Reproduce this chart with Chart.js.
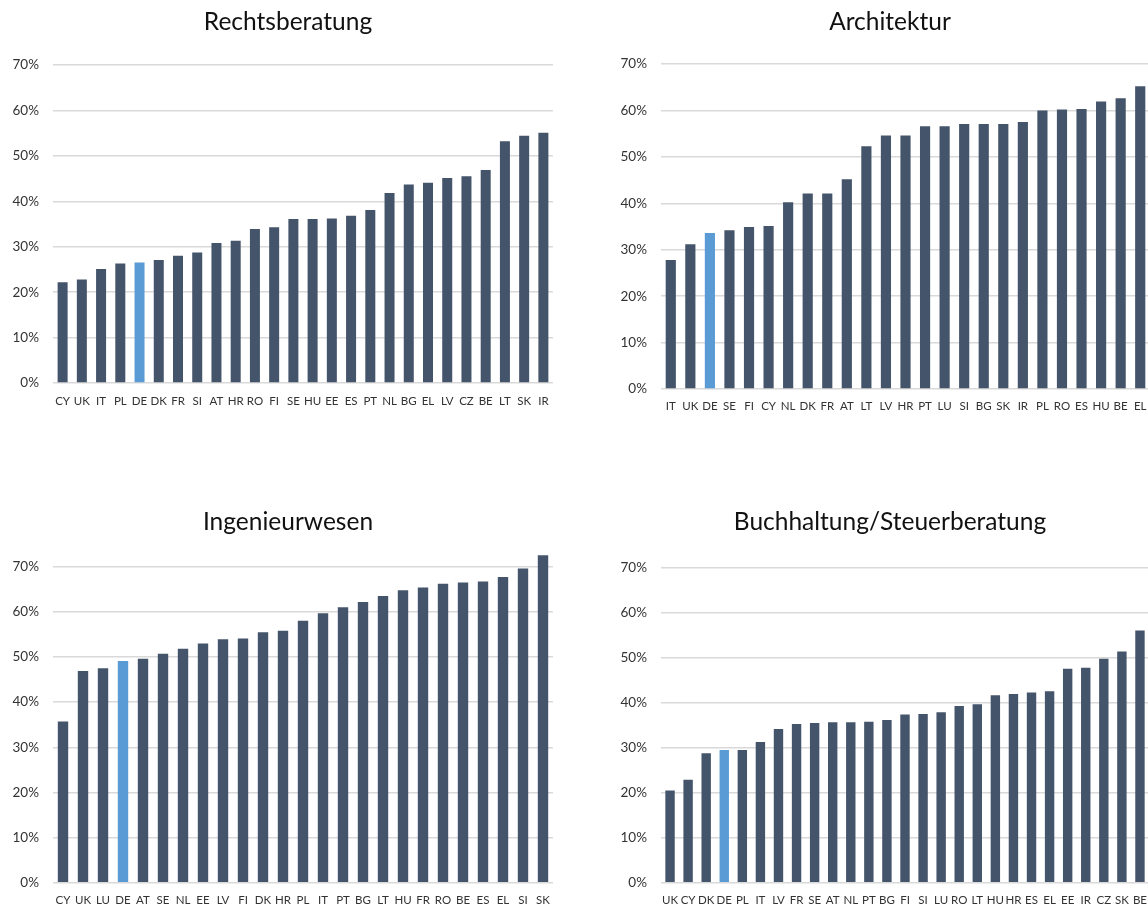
<!DOCTYPE html>
<html><head><meta charset="utf-8">
<script src="https://cdn.jsdelivr.net/npm/chart.js@4/dist/chart.umd.min.js"></script>
<style>
html,body{margin:0;padding:0;background:#fff;width:1148px;height:905px;overflow:hidden;position:relative;}
canvas{position:absolute;display:block;}
</style></head><body>
<canvas id="c1" style="left:0px;top:0px"></canvas>
<canvas id="c2" style="left:602px;top:0px"></canvas>
<canvas id="c3" style="left:0px;top:500px"></canvas>
<canvas id="c4" style="left:602px;top:500px"></canvas>
<script>
// ---- Data (percent) ----
const rechtsLabels = ['CY','UK','IT','PL','DE','DK','FR','SI','AT','HR','RO','FI','SE','HU','EE','ES','PT','NL','BG','EL','LV','CZ','BE','LT','SK','IR'];
const rechtsValues = [22.2,22.8,25.1,26.3,26.5,27.1,28.0,28.7,30.8,31.3,33.9,34.3,36.1,36.1,36.2,36.8,38.1,41.8,43.7,44.1,45.1,45.5,46.9,53.2,54.4,55.1];

const archLabels = ['IT','UK','DE','SE','FI','CY','NL','DK','FR','AT','LT','LV','HR','PT','LU','SI','BG','SK','IR','PL','RO','ES','HU','BE','EL'];
const archValues = [27.8,31.2,33.6,34.2,34.9,35.1,40.2,42.1,42.1,45.2,52.3,54.6,54.6,56.6,56.6,57.1,57.1,57.1,57.5,60.0,60.2,60.3,61.9,62.6,65.2];

const ingLabels = ['CY','UK','LU','DE','AT','SE','NL','EE','LV','FI','DK','HR','PL','IT','PT','BG','LT','HU','FR','RO','BE','ES','EL','SI','SK'];
const ingValues = [35.7,46.9,47.5,49.1,49.6,50.7,51.8,53.0,53.9,54.1,55.5,55.8,58.0,59.7,61.0,62.2,63.5,64.8,65.4,66.2,66.5,66.7,67.7,69.6,72.5];

const buchLabels = ['UK','CY','DK','DE','PL','IT','LV','FR','SE','AT','NL','PT','BG','FI','SI','LU','RO','LT','HU','HR','ES','EL','EE','IR','CZ','SK','BE'];
const buchValues = [20.5,22.9,28.8,29.5,29.5,31.3,34.2,35.3,35.5,35.7,35.7,35.8,36.2,37.4,37.5,37.9,39.3,39.7,41.7,42.0,42.3,42.6,47.6,47.8,49.8,51.4,56.1];

const yTickStep = 10;
const yTickTop = 70;
const highlightCountry = 'DE';

const BAR = '#44546A';
const HIGHLIGHT = '#5B9BD5';
const FONT = 'Lato';

// Title centered on the whole canvas (like the original chart boxes)
const centerTitle = {
  id: 'centerTitle',
  afterDraw(chart, args, opts) {
    const ctx = chart.ctx;
    ctx.save();
    ctx.font = 'normal ' + opts.size + 'px ' + FONT;
    ctx.fillStyle = opts.color;
    ctx.textAlign = 'center';
    ctx.textBaseline = 'middle';
    ctx.fillText(opts.text, chart.width / 2, opts.y);
    ctx.restore();
  }
};

function makeChart(id, title, labels, values, o) {
  const cv = document.getElementById(id);
  cv.width = o.W; cv.height = o.H;
  cv.style.width = o.W + 'px'; cv.style.height = o.H + 'px';
  return new Chart(cv, {
    type: 'bar',
    data: {
      labels: labels,
      datasets: [{
        data: values,
        backgroundColor: labels.map(l => l === highlightCountry ? HIGHLIGHT : BAR),
        barPercentage: 0.52,
        categoryPercentage: 1
      }]
    },
    plugins: [centerTitle],
    options: {
      responsive: false,
      animation: false,
      devicePixelRatio: 1,
      layout: { padding: { left: 0, right: o.padRight, top: o.top, bottom: 0 } },
      plugins: {
        legend: { display: false },
        tooltip: { enabled: false },
        title: { display: false },
        centerTitle: { text: title, size: 24.5, color: '#111111', y: 22 }
      },
      scales: {
        x: {
          grid: { display: false, drawTicks: false },
          border: { display: false },
          ticks: { autoSkip: false, maxRotation: 0, minRotation: 0,
                   font: { family: FONT, size: 11.5 }, color: '#333333', padding: o.xPad },
          afterFit: s => { s.height = o.xH; }
        },
        y: {
          min: 0, max: o.max,
          grid: { color: '#d9d9d9', lineWidth: 1.5, drawTicks: false },
          border: { display: false },
          ticks: { stepSize: yTickStep, padding: 14,
                   font: { family: FONT, size: 13.5 }, color: '#333333',
                   callback: v => v + '%' },
          afterBuildTicks: s => { s.ticks = s.ticks.filter(t => t.value <= yTickTop + 0.001); },
          afterFit: s => { s.width = o.yW; }
        }
      }
    }
  });
}

makeChart('c1', 'Rechtsberatung', rechtsLabels, rechtsValues,
  { W: 576, H: 420, yW: 53, padRight: 23, top: 65, xH: 37, xPad: 11.7, max: 70 });
makeChart('c2', 'Architektur', archLabels, archValues,
  { W: 576, H: 424, yW: 59, padRight: 28, top: 64, xH: 35, xPad: 10.2, max: 70 });
makeChart('c3', 'Ingenieurwesen', ingLabels, ingValues,
  { W: 576, H: 420, yW: 53, padRight: 23, top: 48.6, xH: 37.3, xPad: 10.4, max: 74 });
makeChart('c4', 'Buchhaltung/Steuerberatung', buchLabels, buchValues,
  { W: 576, H: 420, yW: 59, padRight: 29, top: 68, xH: 37.3, xPad: 10.4, max: 70 });
</script>
</body></html>
